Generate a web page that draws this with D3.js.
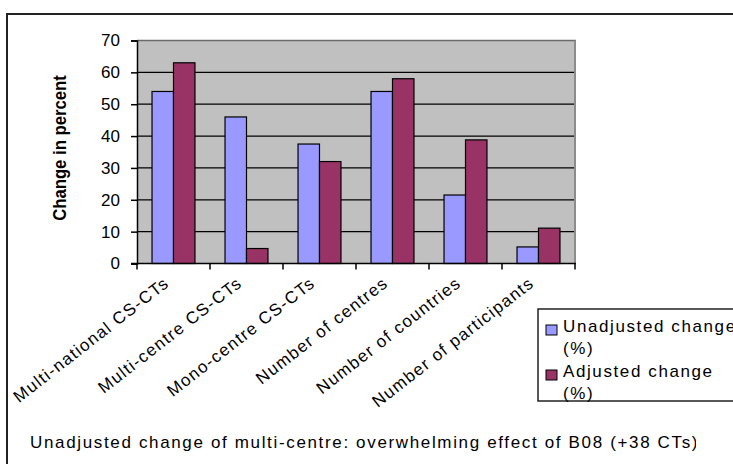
<!DOCTYPE html>
<html>
<head>
<meta charset="utf-8">
<script src="https://cdn.jsdelivr.net/npm/d3@7"></script>
<style>
  html, body { margin: 0; padding: 0; background: #fff; }
  svg { display: block; }
</style>
</head>
<body>
<svg id="chart" width="733" height="464"></svg>
<script>
// Category labels along the x axis
const categories = [
  "Multi-national CS-CTs",
  "Multi-centre CS-CTs",
  "Mono-centre CS-CTs",
  "Number of centres",
  "Number of countries",
  "Number of participants"
];
// Series
const seriesNames = ["Unadjusted change (%)", "Adjusted change (%)"];
const unadjusted = [54, 46, 37.5, 54, 21.5, 5.2];
const adjusted = [63, 4.7, 32, 58, 38.8, 11.1];
const yTicks = [0, 10, 20, 30, 40, 50, 60, 70];
const seriesColors = ["#9999FF", "#993366"];
const yTitle = "Change in percent";
const note = "Unadjusted change of multi-centre: overwhelming effect of B08 (+38 CTs)";

const svg = d3.select("#chart");
const plot = { left: 137, right: 575, top: 40.5, bottom: 263.5 };

// Outer frame
svg.append("rect")
  .attr("x", 7).attr("y", 14)
  .attr("width", 740).attr("height", 470)
  .attr("fill", "#fff").attr("stroke", "#222").attr("stroke-width", 2);

const x = d3.scaleBand().domain(categories).range([plot.left, plot.right]).padding(0);
const x1 = d3.scaleBand().domain(seriesNames).range([0, x.bandwidth()])
  .paddingInner(0).paddingOuter(0.7);
const y = d3.scaleLinear().domain([0, 70]).range([plot.bottom, plot.top]);

// Plot background
svg.append("rect")
  .attr("x", plot.left).attr("y", plot.top)
  .attr("width", plot.right - plot.left).attr("height", plot.bottom - plot.top)
  .attr("fill", "#C0C0C0");

// Gridlines
svg.append("g").selectAll("line")
  .data(yTicks.filter(d => d > 0 && d < 70))
  .join("line")
  .attr("x1", plot.left).attr("x2", plot.right)
  .attr("y1", d => y(d)).attr("y2", d => y(d))
  .attr("stroke", "#000").attr("stroke-width", 1.3);

// Plot area top / right border
svg.append("line")
  .attr("x1", plot.left).attr("x2", plot.right + 1)
  .attr("y1", plot.top).attr("y2", plot.top)
  .attr("stroke", "#6a6a6a").attr("stroke-width", 1.6);
svg.append("line")
  .attr("x1", plot.right).attr("x2", plot.right)
  .attr("y1", plot.top).attr("y2", plot.bottom)
  .attr("stroke", "#8c8c8c").attr("stroke-width", 2);

// Bars
const rows = categories.map((c, i) => ({ cat: c, vals: [unadjusted[i], adjusted[i]] }));
const groups = svg.append("g").selectAll("g")
  .data(rows).join("g")
  .attr("transform", d => `translate(${x(d.cat)},0)`);
groups.selectAll("rect")
  .data(d => d.vals.map((v, j) => ({ key: seriesNames[j], v, j })))
  .join("rect")
  .attr("x", d => x1(d.key))
  .attr("width", x1.bandwidth())
  .attr("y", d => y(d.v))
  .attr("height", d => y(0) - y(d.v))
  .attr("fill", d => seriesColors[d.j])
  .attr("stroke", "#000").attr("stroke-width", 1.2);

// Y axis
const yAxis = d3.axisLeft(y).tickValues(yTicks).tickSize(6).tickPadding(11);
const gy = svg.append("g").attr("transform", `translate(${plot.left},0)`).call(yAxis);
gy.select(".domain").attr("stroke", "#000").attr("stroke-width", 1.5);
gy.selectAll(".tick line").attr("stroke", "#000").attr("stroke-width", 1.5);
gy.selectAll(".tick text")
  .attr("font-family", "Arial, 'Liberation Sans', sans-serif")
  .attr("font-size", 17).attr("fill", "#000");

// X axis with ticks at category boundaries
const boundaries = categories.map(c => x(c)).concat([plot.right]);
svg.append("line")
  .attr("x1", plot.left - 6).attr("x2", plot.right + 1)
  .attr("y1", plot.bottom).attr("y2", plot.bottom)
  .attr("stroke", "#000").attr("stroke-width", 1.5);
svg.append("g").selectAll("line")
  .data(boundaries).join("line")
  .attr("x1", d => d).attr("x2", d => d)
  .attr("y1", plot.bottom).attr("y2", plot.bottom + 6)
  .attr("stroke", "#000").attr("stroke-width", 1.5);

// Rotated category labels
svg.append("g").selectAll("text")
  .data(categories).join("text")
  .attr("transform", d => `translate(${x(d) + x.bandwidth() / 2 - 7},${plot.bottom + 17}) rotate(-38)`)
  .attr("text-anchor", "end")
  .attr("dy", "0.35em")
  .attr("font-family", "Arial, 'Liberation Sans', sans-serif")
  .attr("font-size", 17)
  .attr("letter-spacing", 1.3)
  .attr("fill", "#000")
  .text(d => d);

// Y axis title (condensed bold)
svg.append("text")
  .attr("transform", "translate(66,148) rotate(-90) scale(0.88,1)")
  .attr("text-anchor", "middle")
  .attr("font-family", "'Liberation Sans Narrow', 'Arial Narrow', Arial, sans-serif")
  .attr("font-weight", "bold")
  .attr("font-size", 19)
  .attr("fill", "#000")
  .text(yTitle);

// Legend
const legend = svg.append("g");
legend.append("rect")
  .attr("x", 538).attr("y", 309)
  .attr("width", 220).attr("height", 92)
  .attr("fill", "#fff").attr("stroke", "#222").attr("stroke-width", 1.5);
const legendLines = [["Unadjusted change", "(%)"], ["Adjusted change", "(%)"]];
seriesNames.forEach((s, i) => {
  const top = 316 + i * 45;
  legend.append("rect")
    .attr("x", 546).attr("y", top + 9)
    .attr("width", 11).attr("height", 10)
    .attr("fill", seriesColors[i]).attr("stroke", "#000").attr("stroke-width", 1);
  const t = legend.append("text")
    .attr("font-family", "Arial, 'Liberation Sans', sans-serif")
    .attr("font-size", 17)
    .attr("letter-spacing", 1.6)
    .attr("fill", "#000");
  legendLines[i].forEach((ln, k) => {
    t.append("tspan").attr("x", 563).attr("y", top + 16 + k * 22).text(ln);
  });
});

// Note text, clipped to its box
svg.append("clipPath").attr("id", "noteClip")
  .append("rect").attr("x", 0).attr("y", 420).attr("width", 696).attr("height", 44);
svg.append("text")
  .attr("clip-path", "url(#noteClip)")
  .attr("x", 30).attr("y", 448)
  .attr("font-family", "Arial, 'Liberation Sans', sans-serif")
  .attr("font-size", 17)
  .attr("letter-spacing", 1.65)
  .attr("fill", "#000")
  .text(note);
</script>
</body>
</html>
